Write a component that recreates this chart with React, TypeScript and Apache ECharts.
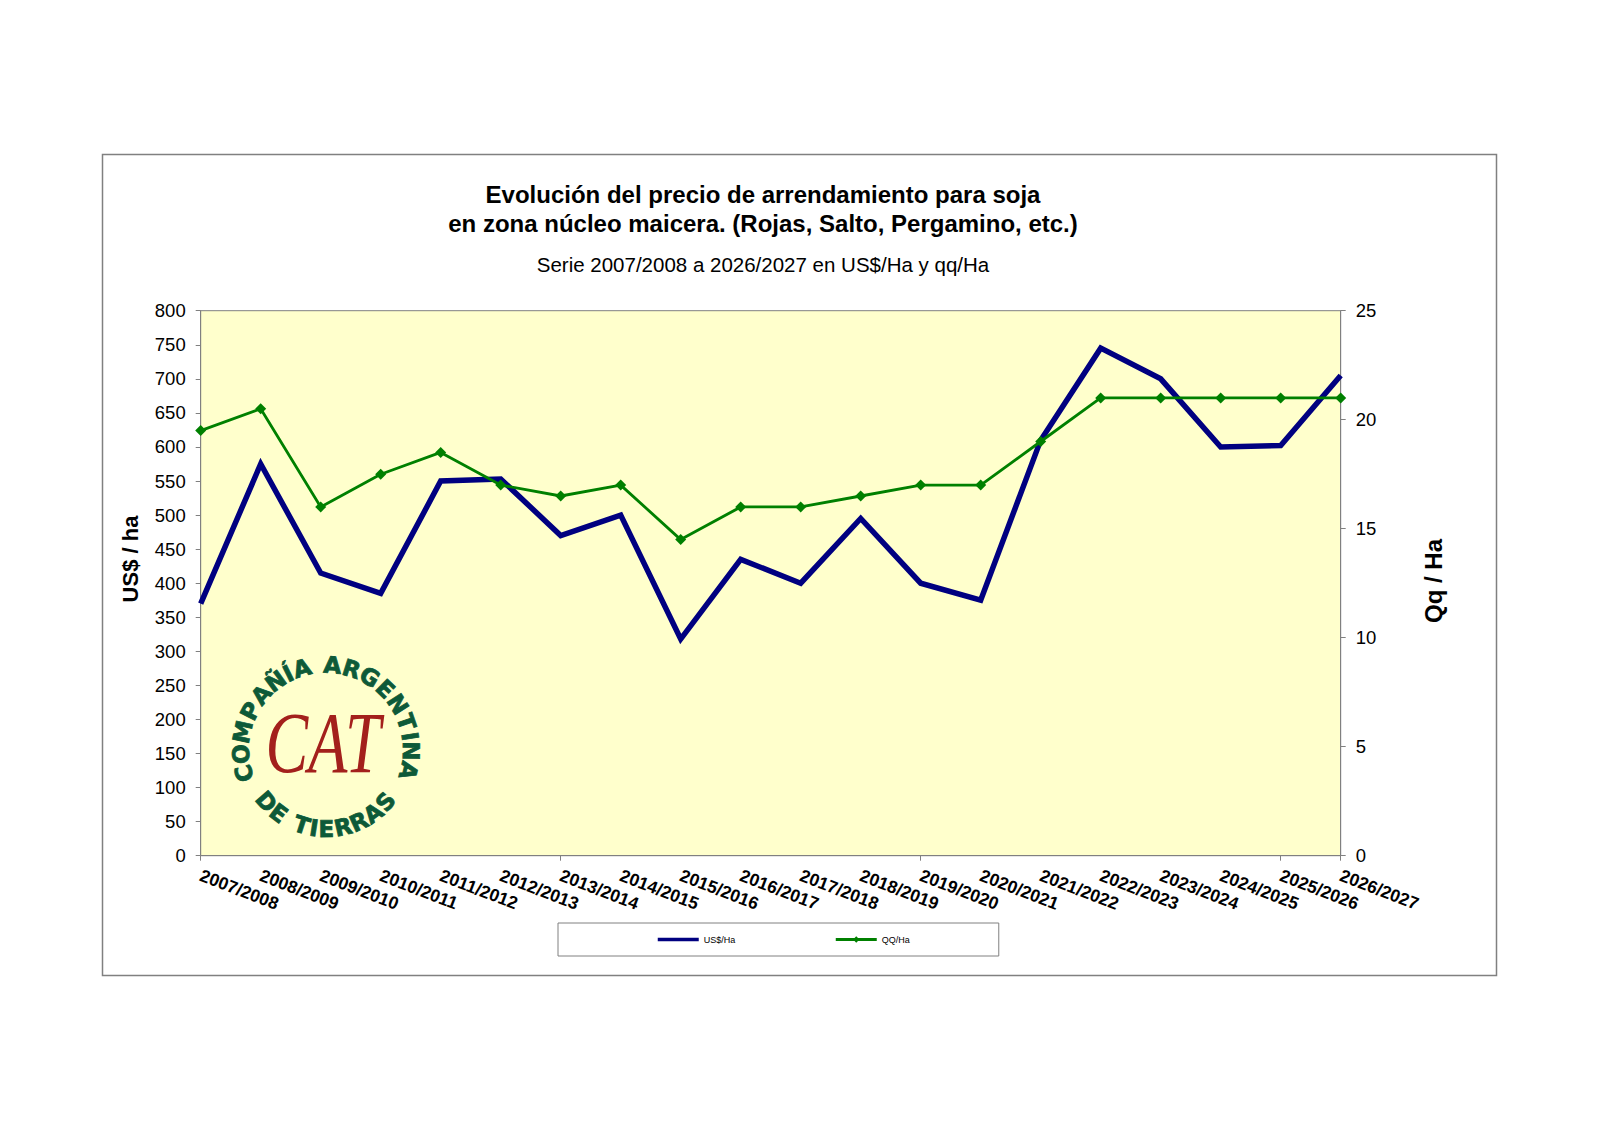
import React, { useEffect, useRef } from 'react';
import * as echarts from 'echarts';

const categories = [
  '2007/2008', '2008/2009', '2009/2010', '2010/2011', '2011/2012',
  '2012/2013', '2013/2014', '2014/2015', '2015/2016', '2016/2017',
  '2017/2018', '2018/2019', '2019/2020', '2020/2021', '2021/2022',
  '2022/2023', '2023/2024', '2024/2025', '2025/2026', '2026/2027',
];
const usdPerHa = [370, 575, 415, 385, 550, 553, 470, 500, 318, 435, 400, 495, 400, 375, 610, 745, 700, 600, 602, 705];
const qqPerHa = [19.5, 20.5, 16, 17.5, 18.5, 17, 16.5, 17, 14.5, 16, 16, 16.5, 17, 17, 19, 21, 21, 21, 21, 21];

const usdAxis = { min: 0, max: 800, interval: 50 };
const qqAxis = { min: 0, max: 25, interval: 5 };

const seriesNames = ['US$/Ha', 'QQ/Ha'];
const titleLines = [
  'Evolución del precio de arrendamiento para soja',
  'en zona núcleo maicera. (Rojas, Salto, Pergamino, etc.)',
];
const subtitleText = 'Serie 2007/2008 a 2026/2027 en US$/Ha y qq/Ha';
const leftAxisName = 'US$ / ha';
const rightAxisName = 'Qq / Ha';
const logoTopText = 'COMPAÑÍA ARGENTINA';
const logoBottomText = 'DE TIERRAS';
const logoMonogram = 'CAT';

const FONT = "'Liberation Sans', Arial, sans-serif";
const GRAY = '#808080';
const NAVY = '#000080';
const GREEN = '#008000';
const LOGO_GREEN = '#0d5a38';
const LOGO_RED = '#a3201c';

function charWidth(ch: string): number {
  if (ch === ' ') return 0.55;
  if (ch === 'I' || ch === 'Í') return 0.5;
  if (ch === 'M') return 1.25;
  return 1;
}

function arcLetters(text: string, cx: number, cy: number, r: number, a0: number, a1: number, outward: boolean) {
  const chars = Array.from(text);
  const widths = chars.map(charWidth);
  const total = widths.reduce((s, v) => s + v, 0);
  const span = total - widths[0] / 2 - widths[widths.length - 1] / 2;
  let acc = 0;
  const out: any[] = [];
  chars.forEach((ch, i) => {
    const center = acc + widths[i] / 2 - widths[0] / 2;
    acc += widths[i];
    if (ch === ' ') return;
    const deg = a0 + ((a1 - a0) * center) / span;
    const rad = (deg * Math.PI) / 180;
    const x = cx + r * Math.cos(rad);
    const y = cy - r * Math.sin(rad);
    out.push({
      type: 'text',
      x,
      y,
      z: 1,
      rotation: outward ? rad - Math.PI / 2 : rad + Math.PI / 2,
      style: {
        text: ch,
        fill: LOGO_GREEN,
        stroke: LOGO_GREEN,
        lineWidth: 0.8,
        fontSize: 23,
        fontWeight: 'bold',
        fontFamily: "'DejaVu Sans', sans-serif",
        align: 'center',
        verticalAlign: 'middle',
        textAlign: 'center',
        textVerticalAlign: 'middle',
      },
    });
  });
  return out;
}

function centeredText(text: string, x: number, y: number, size: number, weight: any, rotation = 0) {
  return {
    type: 'text',
    x,
    y,
    rotation,
    z: 1,
    style: {
      text,
      fill: '#000',
      fontSize: size,
      fontWeight: weight,
      fontFamily: FONT,
      align: 'center',
      verticalAlign: 'middle',
      textAlign: 'center',
      textVerticalAlign: 'middle',
    },
  };
}

export default function App() {
  const ref = useRef<HTMLDivElement>(null);

  useEffect(() => {
    if (!ref.current) return;
    const chart = echarts.init(ref.current, undefined, { renderer: 'svg' });

    const logoCx = 326;
    const logoCy = 750;

    const option: any = {
      animation: false,
      backgroundColor: '#ffffff',
      grid: {
        left: 200.7,
        top: 310.7,
        right: 1600 - 1340.7,
        bottom: 1131 - 855.7,
        show: true,
        backgroundColor: '#FFFFCC',
        borderColor: GRAY,
        borderWidth: 1,
        containLabel: false,
      },
      legend: {
        left: 558,
        top: 923,
        orient: 'horizontal',
        padding: [12, 89, 12, 98],
        itemGap: 99,
        itemWidth: 41,
        itemHeight: 8,
        borderColor: GRAY,
        borderWidth: 1,
        textStyle: { fontSize: 9, fontFamily: FONT, color: '#000' },
        data: [
          { name: seriesNames[0], lineStyle: { width: 3.5 }, itemStyle: { opacity: 0 } },
          { name: seriesNames[1], lineStyle: { width: 3 } },
        ],
      },
      xAxis: {
        type: 'category',
        data: categories,
        boundaryGap: false,
        axisLine: { show: true, lineStyle: { color: GRAY, width: 1 } },
        axisTick: { show: true, interval: 5, length: 5, lineStyle: { color: GRAY } },
        axisLabel: {
          interval: 0,
          rotate: -21,
          margin: 19,
          fontSize: 17.5,
          fontWeight: 'bold',
          fontFamily: FONT,
          color: '#000',
        },
        splitLine: { show: false },
      },
      yAxis: [
        {
          type: 'value',
          min: usdAxis.min,
          max: usdAxis.max,
          interval: usdAxis.interval,
          position: 'left',
          axisLine: { show: true, lineStyle: { color: GRAY } },
          axisTick: { show: true, length: 5, lineStyle: { color: GRAY } },
          axisLabel: { margin: 15, fontSize: 18.5, fontFamily: FONT, color: '#000' },
          splitLine: { show: false },
        },
        {
          type: 'value',
          min: qqAxis.min,
          max: qqAxis.max,
          interval: qqAxis.interval,
          position: 'right',
          axisLine: { show: true, lineStyle: { color: GRAY } },
          axisTick: { show: true, length: 5, lineStyle: { color: GRAY } },
          axisLabel: { margin: 15, fontSize: 18.5, fontFamily: FONT, color: '#000' },
          splitLine: { show: false },
        },
      ],
      series: [
        {
          name: seriesNames[0],
          type: 'line',
          yAxisIndex: 0,
          data: usdPerHa,
          symbol: 'none',
          lineStyle: { color: NAVY, width: 5.5, join: 'miter' },
          itemStyle: { color: NAVY },
          z: 2,
        },
        {
          name: seriesNames[1],
          type: 'line',
          yAxisIndex: 1,
          data: qqPerHa,
          symbol: 'diamond',
          symbolSize: 11,
          showAllSymbol: true,
          lineStyle: { color: GREEN, width: 2.8 },
          itemStyle: { color: GREEN, borderWidth: 0 },
          z: 3,
        },
      ],
      graphic: [
        {
          type: 'rect',
          shape: { x: 102.5, y: 154.5, width: 1394, height: 821 },
          style: { fill: 'none', stroke: GRAY, lineWidth: 1.5 },
          z: 0,
        },
        centeredText(titleLines[0], 763, 194, 24, 'bold'),
        centeredText(titleLines[1], 763, 223, 24, 'bold'),
        centeredText(subtitleText, 763, 264, 20.5, 'normal'),
        centeredText(leftAxisName, 130, 559, 22, 'bold', Math.PI / 2),
        centeredText(rightAxisName, 1433, 581, 24, 'bold', Math.PI / 2),
        ...arcLetters(logoTopText, logoCx, logoCy, 85, 196, -14, true),
        ...arcLetters(logoBottomText, logoCx, logoCy, 79, -139, -41, false),
        {
          type: 'text',
          x: 323,
          y: 742,
          z: 1,
          scaleY: 1.35,
          style: {
            text: logoMonogram,
            fill: LOGO_RED,
            fontSize: 64,
            fontStyle: 'italic',
            fontFamily: "'Liberation Serif', 'DejaVu Serif', serif",
            align: 'center',
            verticalAlign: 'middle',
            textAlign: 'center',
            textVerticalAlign: 'middle',
          },
        },
      ],
    };

    chart.setOption(option);
    return () => chart.dispose();
  }, []);

  return (
    <div
      ref={ref}
      style={{ position: 'absolute', left: 0, top: 0, width: 1600, height: 1131, background: '#fff' }}
    />
  );
}
